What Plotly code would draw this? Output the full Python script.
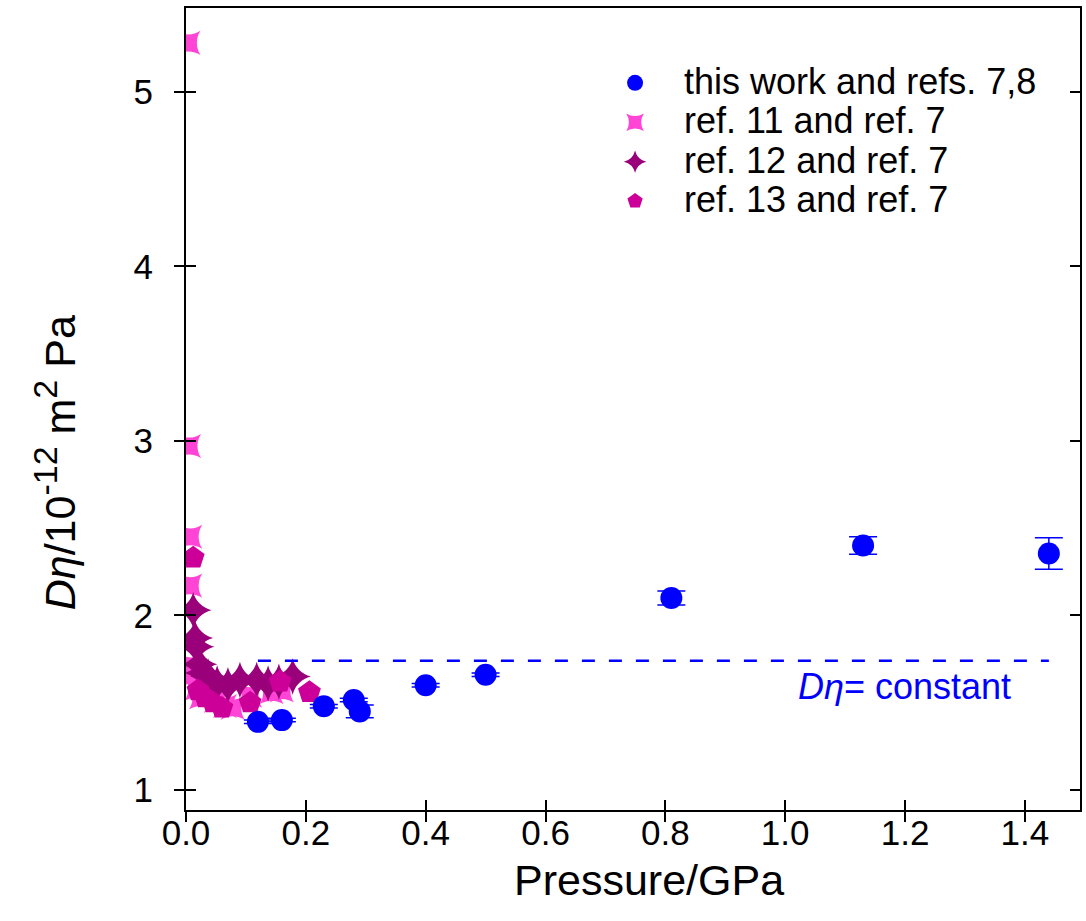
import plotly.graph_objects as go

# this work and refs. 7,8
p_this = [0.12, 0.16, 0.23, 0.28, 0.29, 0.40, 0.50, 0.81, 1.13, 1.44]
d_this = [1.39, 1.40, 1.48, 1.515, 1.45, 1.60, 1.66, 2.10, 2.40, 2.355]
e_this = [0.01, 0.01, 0.01, 0.01, 0.037, 0.01, 0.01, 0.04, 0.05, 0.09]

# ref. 11 and ref. 7
p_r11 = [0.004, 0.005, 0.007, 0.007, 0.010, 0.013, 0.018, 0.025, 0.05, 0.065, 0.078, 0.107, 0.143, 0.16]
d_r11 = [5.28, 2.97, 2.45, 2.17, 1.71, 1.66, 1.58, 1.53, 1.51, 1.48, 1.47, 1.54, 1.56, 1.57]

# ref. 12 and ref. 7
p_r12 = [0.012, 0.015, 0.017, 0.022, 0.028, 0.037, 0.052, 0.07, 0.09, 0.118, 0.137, 0.155, 0.178]
d_r12 = [2.03, 1.87, 1.82, 1.72, 1.67, 1.65, 1.61, 1.60, 1.63, 1.63, 1.61, 1.62, 1.65]

# ref. 13 and ref. 7
p_r13 = [0.012, 0.02, 0.032, 0.045, 0.06, 0.107, 0.157, 0.206]
d_r13 = [2.33, 1.57, 1.53, 1.50, 1.47, 1.50, 1.62, 1.56]

# constant line
p_const = [0.12, 1.44]
d_const = [1.74, 1.74]

x_ticks = [0.0, 0.2, 0.4, 0.6, 0.8, 1.0, 1.2, 1.4]
y_ticks = [1, 2, 3, 4, 5]

BLUE = "#0000FF"
PINK = "#FF44D6"
PLUM = "#99007A"
MAG = "#CC0099"
FONT = "Liberation Sans, Arial"


def leg(t):
    return f'<span style="font-size:36px">{t}</span>'


fig = go.Figure()

fig.add_trace(go.Scatter(x=p_r11, y=d_r11, mode="markers", name=leg("ref. 11 and ref. 7"),
                         marker=dict(symbol="star-square", size=22, color=PINK, line=dict(width=0)),
                         legendrank=2))
fig.add_trace(go.Scatter(x=p_r12, y=d_r12, mode="markers", name=leg("ref. 12 and ref. 7"),
                         marker=dict(symbol="star-diamond", size=26, color=PLUM, line=dict(width=0)),
                         legendrank=3))
fig.add_trace(go.Scatter(x=p_r13, y=d_r13, mode="markers", name=leg("ref. 13 and ref. 7"),
                         marker=dict(symbol="pentagon", size=24, color=MAG, line=dict(width=0)),
                         legendrank=4))
fig.add_trace(go.Scatter(x=p_this, y=d_this, mode="markers", name=leg("this work and refs. 7,8"),
                         marker=dict(symbol="circle", size=22, color=BLUE, line=dict(width=0)),
                         error_y=dict(type="data", array=e_this, color=BLUE, thickness=1.5, width=14),
                         legendrank=1))
fig.add_trace(go.Scatter(x=p_const, y=d_const, mode="lines", showlegend=False,
                         line=dict(color=BLUE, width=2.5, dash="13px,14px")))
# invisible trace for the secondary (tick-only) axes
fig.add_trace(go.Scatter(x=[0.5], y=[3], xaxis="x2", yaxis="y2", mode="markers",
                         marker=dict(opacity=0), showlegend=False, hoverinfo="skip"))

fig.add_annotation(x=1.199, y=1.59, xref="x", yref="y", text="<i>Dη</i>= constant",
                   showarrow=False, font=dict(family=FONT, size=36, color=BLUE))

# axis titles
SUP = '<sup><span style="font-size:34px">{}</span></sup>'
ytitle = "<i>Dη</i>/10" + SUP.format("-12") + " m" + SUP.format("2") + " Pa"
fig.add_annotation(x=(55 - 186) / 896, y=(810 - 463) / 802, xref="paper", yref="paper",
                   text=ytitle, textangle=-90,
                   showarrow=False, xanchor="center", yanchor="middle",
                   font=dict(family=FONT, size=43, color="black"))
fig.add_annotation(x=(650 - 186) / 896, y=(810 - 880) / 802, xref="paper", yref="paper",
                   text="Pressure/GPa", showarrow=False, xanchor="center", yanchor="middle",
                   font=dict(family=FONT, size=43, color="black"))

axis_font = dict(family=FONT, size=35, color="black")
fig.update_layout(
    width=1086, height=921,
    margin=dict(l=186, r=4, t=8, b=111),
    plot_bgcolor="white", paper_bgcolor="white",
    font=axis_font,
    showlegend=True,
    legend=dict(x=0.4475, y=0.9375, xanchor="left", yanchor="top",
                font=dict(family=FONT, size=28, color="black"),
                bgcolor="rgba(0,0,0,0)", itemsizing="trace", itemwidth=88, tracegroupgap=0),
    xaxis=dict(range=[0, 1.492], tickvals=x_ticks, ticktext=[f"{v:.1f}" for v in x_ticks],
               ticks="outside", ticklen=10, tickwidth=2, tickcolor="black",
               showline=True, linewidth=2, linecolor="black", mirror=True,
               showgrid=False, zeroline=False, tickfont=axis_font, ticklabelstandoff=-19),
    yaxis=dict(range=[0.885, 5.48], tickvals=y_ticks, ticktext=[str(v) for v in y_ticks],
               ticks="outside", ticklen=10, tickwidth=2, tickcolor="black",
               showline=True, linewidth=2, linecolor="black", mirror=True,
               showgrid=False, zeroline=False, tickfont=axis_font, ticklabelstandoff=14),
    xaxis2=dict(overlaying="x", matches="x", side="bottom", anchor="y2", tickvals=x_ticks,
                ticks="inside", ticklen=10, tickwidth=2, tickcolor="black",
                showticklabels=False, showline=False, showgrid=False, zeroline=False),
    yaxis2=dict(overlaying="y", matches="y", side="left", anchor="x2", tickvals=y_ticks,
                ticks="inside", ticklen=10, tickwidth=2, tickcolor="black", mirror="ticks",
                showticklabels=False, showline=False, showgrid=False, zeroline=False),
)

fig.write_html("out.html")
